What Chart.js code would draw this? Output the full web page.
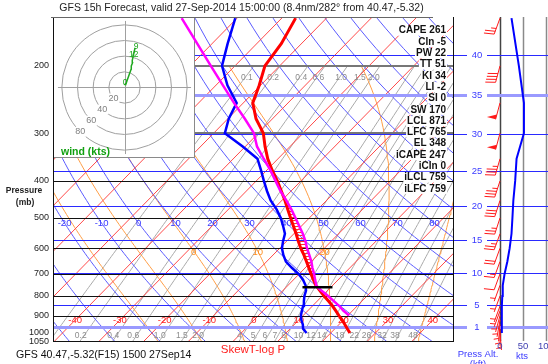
<!DOCTYPE html>
<html>
<head>
<meta charset="utf-8">
<script src="https://cdn.jsdelivr.net/npm/chart.js@4.4.1/dist/chart.umd.min.js"></script>
<style>
  html, body { margin: 0; padding: 0; background: #fff; }
  #wrap { position: relative; width: 548px; height: 364px; }
</style>
</head>
<body>
<div id="wrap"><canvas id="skewt" width="548" height="364"></canvas></div>
<script>
// sounding (mb / deg C)
const levels = [1000, 975, 950, 925, 900, 875, 850, 825, 800, 775, 750, 725, 700, 675, 650, 625, 600, 575, 550, 525, 500, 475, 450, 425, 400, 375, 350, 325, 300, 275, 250, 225, 200, 175, 150]
const temperature = [24.3, 22.8, 21.3, 19.7, 18.0, 16.3, 14.5, 12.5, 10.4, 8.3, 6.2, 4.4, 2.6, 0.8, -1.1, -3.1, -5.3, -7.4, -9.5, -11.8, -14.2, -16.7, -19.3, -22.2, -25.3, -28.8, -32.3, -35.6, -38.9, -43.7, -47.9, -50.3, -53.3, -54.5, -56.9]
const dewpoint = [14.6, 12.9, 11.9, 10.6, 9.5, 8.7, 7.9, 7.0, 6.0, 5.2, 3.9, 2.1, -0.2, -3.0, -5.7, -7.7, -9.5, -10.8, -12.0, -14.1, -16.4, -19.2, -22.5, -25.4, -28.3, -31.3, -34.6, -40.6, -47.5, -49.8, -51.5, -57.4, -62.9, -66.5, -70.4]

// lifted parcel
const parcelLevels = [900, 875, 850, 825, 800, 775, 759, 750, 725, 700, 675, 650, 625, 600, 575, 550, 525, 500, 475, 450, 425, 400, 375, 350, 325, 300, 275, 250, 225, 200, 175, 150]
const parcelTemp = [20.3, 18.0, 16.0, 13.7, 11.3, 8.7, 7.0, 6.3, 4.8, 3.3, 1.6, 0.0, -1.9, -3.9, -5.8, -8.0, -10.5, -13.1, -15.9, -19.0, -22.4, -25.7, -29.2, -33.2, -37.4, -41.0, -46.2, -52.1, -58.4, -65.4, -73.3, -82.4]

// winds (mb / kts / deg)
const windLevels = [1000, 975, 950, 925, 900, 875, 850, 800, 750, 700, 650, 600, 550, 500, 450, 400, 350, 300, 250, 200, 150]
const windSpeed = [4, 4, 4, 4, 4, 4, 4, 5, 6, 10, 16, 21, 25, 27, 29, 33, 36, 52, 52, 41, 25]
const windDir = [175, 180, 185, 190, 195, 200, 200, 200, 200, 200, 200, 200, 200, 198, 198, 198, 196, 195, 195, 195, 200]

// indices box
const indexNames = ["CAPE", "CIn", "PW", "TT", "KI", "LI", "SI", "SW", "LCL", "LFC", "EL", "iCAPE", "iCIn", "iLCL", "iLFC"]
const indexValues = [261, -5, 22, 51, 34, -2, 0, 170, 871, 765, 348, 247, 0, 759, 759]

// ticks and guide lines
const pressureTicks = [200, 300, 400, 500, 600, 700, 800, 900, 1000, 1050]
const isobars = [200, 300, 400, 500, 600, 700, 800, 900]
const altKft = [1, 5, 10, 15, 20, 25, 30, 35, 40]
const altPres = [964.4, 843.1, 696.8, 571.8, 465.6, 376.0, 300.9, 238.4, 187.5]
const windTicks = [0, 50, 100]
const isoLabels = [-40, -30, -20, -10, 0, 10, 20, 30, 40]
const thetaLabels = [-20, -10, 0, 10, 20, 30, 40, 50, 60, 70, 80]
const moistLabels = [0, 10, 20]
const mixRatios = [0.1, 0.2, 0.4, 0.6, 1, 1.5, 2, 4, 5, 6, 7, 8, 10, 12, 14, 18, 22, 26, 32, 38, 48]
const hodoRings = [20, 40, 60, 80]

// skew: x value = T + SKEW*ln(1000/p)
const SKEW = 36.4
const T0PX = 241.3, PXC = 4.47
const skew = (t, p) => t + SKEW * Math.log(1000 / p)
const FONT = '"Liberation Sans", Arial, sans-serif'
const CLIP = { left: 0, top: 0, right: -95, bottom: 0 }

const guideP = []
for (let p = 1050; p >= 150; p -= 10) guideP.push(p)

const dryT = (th, p) => (th + 273.15) * Math.pow(p / 1000, 0.2857) - 273.15
const mixTd = (w, p) => {
  const a = Math.log(w * p / (622 + w) / 6.112)
  return 243.5 * a / (17.67 - a)
}
const moistLapse = (t, p) => {
  const tk = t + 273.15
  const es = 6.112 * Math.exp(17.67 * t / (t + 243.5))
  const rs = 0.622 * es / (p - es)
  return (287.04 * tk + 2.501e6 * rs) / (p * (1005.7 + (2.501e6 * 2.501e6 * rs * 0.622) / (287.04 * tk * tk)))
}
const stepMoist = (t, p, dp) => {
  const k1 = moistLapse(t, p)
  return t + moistLapse(t + k1 * dp / 2, p + dp / 2) * dp
}
const moistLine = (tw) => {
  const out = {}
  let t = tw
  for (let p = 1000; p < 1050; p += 5) { out[p] = t; t = stepMoist(t, p, 5) }
  out[1050] = t
  t = tw
  for (let p = 1000; p > 200; p -= 5) { out[p] = t; t = stepMoist(t, p, -5) }
  out[200] = t
  return out
}

const interpAt = (ps, vs, p) => {
  for (let i = 0; i < ps.length - 1; i++) {
    if (p <= ps[i] && p >= ps[i + 1]) {
      const f = Math.log(ps[i] / p) / Math.log(ps[i] / ps[i + 1])
      return vs[i] + f * (vs[i + 1] - vs[i])
    }
  }
  return null
}

const line = (data, color, width, order, extra) => Object.assign({
  data, borderColor: color, borderWidth: width, pointRadius: 0, showLine: true,
  fill: false, order, clip: CLIP
}, extra || {})

const datasets = []
// isotherms
for (let t = -110; t <= 40; t += 10) {
  datasets.push(line([{ x: skew(t, 1050), y: 1050 }, { x: skew(t, 149), y: 149 }], "#ff4a4a", 1, 10))
}
// dry adiabats
for (let th = -50; th <= 170; th += 10) {
  datasets.push(line(guideP.map(p => ({ x: skew(dryT(th, p), p), y: p })), "#5a5aff", 1, 10))
}
// moist adiabats
const moistCache = {}
for (let tw = -20; tw <= 40; tw += 10) {
  const m = moistLine(tw)
  moistCache[tw] = m
  datasets.push(line(guideP.filter(p => p >= 200).map(p => ({ x: skew(m[p], p), y: p })), "#ff9d45", 1, 10))
}
// mixing ratio lines
mixRatios.forEach(w => {
  datasets.push(line(guideP.filter(p => p >= 200).map(p => ({ x: skew(mixTd(w, p), p), y: p })), "#a9a9a9", 1, 10))
})

// hodograph, speed profile, sounding
const hodoPts = []
for (let i = 0; i < windLevels.length; i++) {
  if (windLevels[i] < 200) break
  const r = windDir[i] * Math.PI / 180
  hodoPts.push({ x: -windSpeed[i] * Math.sin(r), y: -windSpeed[i] * Math.cos(r) })
}
datasets.push(line(hodoPts, "#1fa81f", 1.5, 5, { xAxisID: "hx", yAxisID: "hy", tag: "hodo", clip: 0 }))
datasets.push(line(windLevels.map((p, i) => ({ x: windSpeed[i], y: p })), "#0000ff", 2, 4, { xAxisID: "x2", clip: 0 }))
datasets.push(line(levels.map((p, i) => ({ x: skew(dewpoint[i], p), y: p })), "#0000ff", 2.5, 3))
datasets.push(line(levels.map((p, i) => ({ x: skew(temperature[i], p), y: p })), "#ff0000", 3, 2, { tag: "temp" }))
datasets.push(line(parcelLevels.map((p, i) => ({ x: skew(parcelTemp[i], p), y: p })), "#ff00ff", 2.5, 1))

const text = (ctx, s, x, y, color, font, align) => {
  ctx.font = font
  ctx.textAlign = align || "center"
  ctx.textBaseline = "middle"
  ctx.fillStyle = color
  ctx.fillText(s, x, y)
}
const hline = (ctx, x1, x2, y, color, width) => {
  ctx.strokeStyle = color
  ctx.lineWidth = width
  ctx.beginPath()
  ctx.moveTo(x1, y)
  ctx.lineTo(x2, y)
  ctx.stroke()
}
const vline = (ctx, x, y1, y2, color, width) => {
  ctx.strokeStyle = color
  ctx.lineWidth = width
  ctx.beginPath()
  ctx.moveTo(x, y1)
  ctx.lineTo(x, y2)
  ctx.stroke()
}

function drawUnder(chart) {
  const { ctx, chartArea: a, scales: { x, y, x2, hx, hy } } = chart
  const right = a.right + CLIP.right
  ctx.save()
  // isobars
  isobars.forEach(p => {
    const yy = Math.round(y.getPixelForValue(p))
    if (p <= 300) hline(ctx, a.left, right, yy, "#777", 2)
    else hline(ctx, a.left, right, yy + 0.5, "#111", 1)
  })
  // right panel speed lines
  windTicks.forEach((k, i) => {
    vline(ctx, Math.round(x2.getPixelForValue(k)) + 0.5, a.top, a.bottom, i === 0 ? "#444" : "#8a8a8a", 1.5)
  })
  // pressure altitude lines
  altPres.forEach((p, i) => {
    const yy = Math.round(y.getPixelForValue(p)) + 0.5
    const thick = altKft[i] === 1 || altKft[i] === 35
    hline(ctx, a.left, a.right, yy, thick ? "#9a9aff" : "#2a2aff", thick ? 3 : 1)
    ctx.fillStyle = "#fff"
    ctx.fillRect(467, yy - 5, 20, 10)
    text(ctx, String(altKft[i]), 477, yy, "#3a3aff", "9.5px " + FONT)
  })
  // guide labels
  isoLabels.forEach(t => {
    text(ctx, String(t), x.getPixelForValue(skew(t, 925)), y.getPixelForValue(925), "#ff2020", "9.5px " + FONT)
  })
  thetaLabels.forEach(th => {
    text(ctx, String(th), x.getPixelForValue(skew(dryT(th, 515.6), 515.6)), y.getPixelForValue(515.6), "#3a3aff", "9.5px " + FONT)
  })
  moistLabels.forEach(tw => {
    text(ctx, String(tw), x.getPixelForValue(skew(moistCache[tw][610], 610)), y.getPixelForValue(610) + 1, "#ff8c1a", "9.5px " + FONT)
  })
  const mixText = w => (w <= 2 ? w.toFixed(1) : String(w))
  mixRatios.forEach(w => {
    const xb = x.getPixelForValue(skew(mixTd(w, 1018), 1018)) - 3
    if (xb > 60) text(ctx, mixText(w), xb, y.getPixelForValue(1018), "#8c8c8c", "8.5px " + FONT)
    if (w <= 2) text(ctx, mixText(w), x.getPixelForValue(skew(mixTd(w, 215), 215)) + 2, y.getPixelForValue(215), "#8c8c8c", "8.5px " + FONT)
  })
  // hodograph box
  ctx.fillStyle = "#fff"
  ctx.fillRect(53, 17, 142, 141)
  ctx.strokeStyle = "#8a8a8a"
  ctx.lineWidth = 1
  ctx.strokeRect(53.5, 17.5, 141, 140)
  const cx = hx.getPixelForValue(0), cy = hy.getPixelForValue(0)
  const k = hx.getPixelForValue(1) - cx
  ctx.strokeStyle = "#a0a0a0"
  hodoRings.forEach(r => {
    ctx.beginPath()
    ctx.arc(cx, cy, r * k, 0, Math.PI * 2)
    ctx.stroke()
  })
  hline(ctx, cx - 85 * k, cx + 85 * k, Math.round(cy) + 0.5, "#a0a0a0", 1)
  vline(ctx, Math.round(cx) + 0.5, cy - 85 * k, cy + 85 * k, "#a0a0a0", 1)
  hodoRings.forEach(r => {
    ctx.fillStyle = "#fff"
    ctx.fillRect(cx - r * k * 0.707 - 6, cy + r * k * 0.707 - 5, 12, 10)
    text(ctx, String(r), cx - r * k * 0.707, cy + r * k * 0.707, "#808080", "9px " + FONT)
  })
  text(ctx, "wind (kts)", 61, 152, "#10a010", "bold 10.5px " + FONT, "left")
  // hodograph height marks
  const hodoLab = [["0", 0], ["9", windLevels.indexOf(300)], ["12", windLevels.indexOf(200)]]
  hodoLab.forEach(([s, i]) => {
    text(ctx, s, hx.getPixelForValue(hodoPts[i].x) + 1, hy.getPixelForValue(hodoPts[i].y) - 2, "#1fa81f", "8.5px " + FONT)
  })
  ctx.restore()
}

function drawHatch(chart) {
  const { ctx, scales: { x, y } } = chart
  const pTop = indexValues[indexNames.indexOf("EL")], pBot = indexValues[indexNames.indexOf("LFC")]
  ctx.save()
  ctx.strokeStyle = "#ff3030"
  ctx.lineWidth = 1
  for (let yy = Math.round(y.getPixelForValue(pBot)); yy >= y.getPixelForValue(pTop); yy -= 3) {
    const p = y.getValueForPixel(yy)
    const te = interpAt(levels, temperature, p), tp = interpAt(parcelLevels, parcelTemp, p)
    if (te === null || tp === null || tp <= te) continue
    hline(ctx, x.getPixelForValue(skew(te, p)), x.getPixelForValue(skew(tp, p)), yy + 0.5, "#ff3030", 1)
  }
  ctx.restore()
}

function drawBarb(ctx, bx, by, spd, dir) {
  const r = dir * Math.PI / 180
  const sx = Math.sin(r), sy = -Math.cos(r)
  const px = -sy, py = sx
  const L = 17
  const tx = bx + sx * L, ty = by + sy * L
  ctx.beginPath()
  ctx.moveTo(bx, by)
  ctx.lineTo(tx, ty)
  ctx.stroke()
  let v = Math.round(spd / 5) * 5
  let d = 0
  const feather = len => {
    const ax = tx - sx * d, ay = ty - sy * d
    ctx.beginPath()
    ctx.moveTo(ax, ay)
    ctx.lineTo(ax + px * len + sx * len * 0.25, ay + py * len + sy * len * 0.25)
    ctx.stroke()
  }
  while (v >= 50) {
    const ax = tx - sx * d, ay = ty - sy * d
    ctx.beginPath()
    ctx.moveTo(ax, ay)
    ctx.lineTo(ax + px * 9, ay + py * 9)
    ctx.lineTo(ax - sx * 5, ay - sy * 5)
    ctx.closePath()
    ctx.fill()
    d += 7
    v -= 50
  }
  while (v >= 10) { feather(10); d += 3; v -= 10 }
  if (v >= 5) { if (d === 0) d = 3; feather(5) }
}

function drawOver(chart) {
  const { ctx, chartArea: a, scales: { x, y, x2 } } = chart
  const right = a.right + CLIP.right
  ctx.save()
  // LCL marker
  const pl = indexValues[indexNames.indexOf("iLCL")]
  const xl = x.getPixelForValue(skew(interpAt(parcelLevels, parcelTemp, pl), pl))
  hline(ctx, xl - 15, xl + 15, y.getPixelForValue(pl), "#000", 2.5)
  // frame
  vline(ctx, a.left + 0.5, a.top, a.bottom, "#111", 1)
  vline(ctx, right + 0.5, a.top, a.bottom, "#111", 1)
  hline(ctx, a.left, right + 1, a.bottom + 0.5, "#111", 1)
  hline(ctx, a.left - 2, 433, a.top + 0.5, "#666", 1)
  // barbs
  ctx.strokeStyle = "#ff1a1a"
  ctx.fillStyle = "#ff1a1a"
  ctx.lineWidth = 1
  windLevels.forEach((p, i) => drawBarb(ctx, x2.getPixelForValue(0), y.getPixelForValue(p), windSpeed[i], windDir[i]))
  // indices
  indexNames.forEach((n, i) => {
    const s = n + " " + indexValues[i]
    const yy = 30.7 + i * 11.3
    ctx.font = "bold 10px " + FONT
    const w = ctx.measureText(s).width
    ctx.fillStyle = "#fff"
    ctx.fillRect(446 - w - 1, yy - 5, w + 2, 10)
    text(ctx, s, 446, yy, "#111", "bold 10px " + FONT, "right")
  })
  // axis labels
  pressureTicks.forEach(p => text(ctx, String(p), 49, y.getPixelForValue(p), "#222", "9px " + FONT, "right"))
  text(ctx, "Pressure", 24, 191, "#222", "bold 8.5px " + FONT)
  text(ctx, "(mb)", 25, 203, "#222", "bold 8.5px " + FONT)
  windTicks.forEach(k => text(ctx, String(k), x2.getPixelForValue(k), 346, "#4040b0", "9.5px " + FONT))
  text(ctx, "kts", 522, 356, "#3a3aff", "9.5px " + FONT)
  text(ctx, "Press Alt.", 478, 354, "#3a3aff", "9.5px " + FONT)
  text(ctx, "(kft)", 478, 364, "#3a3aff", "9.5px " + FONT)
  text(ctx, "SkewT-log P", 253, 350, "#ff2020", "11.5px " + FONT)
  text(ctx, "GFS 40.47,-5.32(F15) 1500 27Sep14", 16, 355, "#111", "10.6px " + FONT, "left")
  text(ctx, "GFS 15h Forecast, valid 27-Sep-2014 15:00:00 (8.4nm/282\u00b0 from 40.47,-5.32)", 241.5, 8, "#222", "10.5px " + FONT)
  ctx.restore()
}

const overlay = {
  id: "overlay",
  beforeDatasetDraw(chart, args) {
    const tag = chart.data.datasets[args.index].tag
    if (tag === "hodo") drawUnder(chart)
    if (tag === "temp") drawHatch(chart)
  },
  afterDatasetsDraw(chart) {
    drawOver(chart)
  }
}

const hk = 0.783
new Chart(document.getElementById("skewt"), {
  type: "scatter",
  data: { datasets },
  options: {
    responsive: false,
    animation: false,
    devicePixelRatio: 1,
    events: [],
    layout: { padding: { left: 53, top: 17, right: 0, bottom: 23 } },
    plugins: { legend: { display: false }, tooltip: { enabled: false } },
    elements: { line: { tension: 0 }, point: { radius: 0 } },
    scales: {
      x: { type: "linear", min: (53 - T0PX) / PXC, max: (548 - T0PX) / PXC, display: false, bounds: "data" },
      y: { type: "logarithmic", reverse: true, min: 149, max: 1049.4, display: false, bounds: "data" },
      x2: { type: "linear", axis: "x", min: (53 - 500) / 0.46, max: (548 - 500) / 0.46, display: false, bounds: "data" },
      hx: { type: "linear", axis: "x", min: (53 - 124.5) / hk, max: (548 - 124.5) / hk, display: false, bounds: "data" },
      hy: { type: "linear", axis: "y", min: -(341 - 87.5) / hk, max: (87.5 - 17) / hk, display: false, bounds: "data" }
    }
  },
  plugins: [overlay]
})
</script>
</body>
</html>
